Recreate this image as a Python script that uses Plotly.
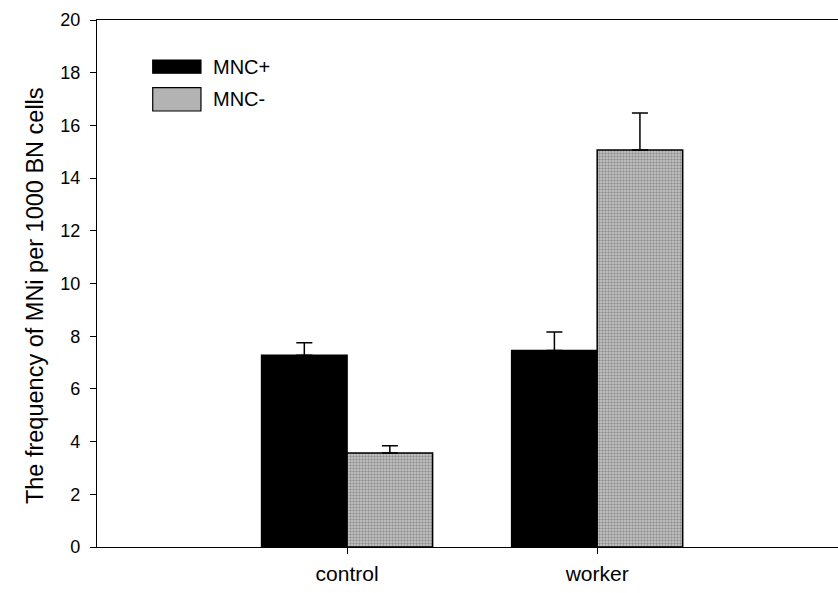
import plotly.graph_objects as go

# Micronucleus frequencies per 1000 binucleated cells
groups = ["control", "worker"]
mnc_pos = [7.28, 7.46]
mnc_pos_err = [0.47, 0.70]
mnc_neg = [3.57, 15.07]
mnc_neg_err = [0.27, 1.40]
y_ticks = [0, 2, 4, 6, 8, 10, 12, 14, 16, 18, 20]

FONT = "Liberation Sans, Arial, sans-serif"

fig = go.Figure()

fig.add_trace(go.Bar(
    name="MNC+", x=groups, y=mnc_pos,
    marker=dict(color="#000000", line=dict(color="#000000", width=1.5)),
    error_y=dict(type="data", symmetric=False, array=mnc_pos_err,
                 arrayminus=[0, 0], color="#000000", thickness=1.5, width=8),
    showlegend=False,
))
fig.add_trace(go.Bar(
    name="MNC-", x=groups, y=mnc_neg,
    marker=dict(color="#b0b0b0", line=dict(color="#000000", width=1.5),
                pattern=dict(shape=".", fgcolor="#5a5a5a", bgcolor="#c9c9c9",
                             size=3, solidity=0.5)),
    error_y=dict(type="data", symmetric=False, array=mnc_neg_err,
                 arrayminus=[0, 0], color="#000000", thickness=1.5, width=8),
    showlegend=False,
))

# Hand-drawn legend in the upper-left corner of the plot
legend_items = [("MNC+", "#000000", 0.924, 0.899),
                ("MNC-", "#b3b3b3", 0.8716, 0.8273)]
for label, fill, ytop, ybot in legend_items:
    fig.add_shape(type="rect", xref="paper", yref="paper",
                  x0=0.0752, x1=0.1403, y0=ybot, y1=ytop,
                  fillcolor=fill, line=dict(color="#000000", width=1.2))
    fig.add_annotation(xref="paper", yref="paper", x=0.154, y=(ytop + ybot) / 2,
                       text=label, showarrow=False, xanchor="left", yanchor="middle",
                       font=dict(family=FONT, size=20, color="#000000"))

# Y axis title
fig.add_annotation(xref="paper", yref="paper", x=-0.0837, y=0.478,
                   text="The frequency of MNi per 1000 BN cells", textangle=-90,
                   showarrow=False, xanchor="center", yanchor="middle",
                   font=dict(family=FONT, size=23.5, color="#000000"))

fig.update_layout(
    width=838, height=593,
    margin=dict(l=97, r=0, t=20, b=46),
    paper_bgcolor="#ffffff", plot_bgcolor="#ffffff",
    barmode="group", bargap=0.316, bargroupgap=0,
    font=dict(family=FONT, color="#000000"),
)
fig.update_xaxes(
    type="category", range=[-1, 1.963],
    showline=True, linecolor="#000000", linewidth=1.2, mirror=True,
    ticks="outside", ticklen=6, tickwidth=1, tickcolor="#000000",
    ticklabelstandoff=2,
    tickfont=dict(family=FONT, size=21, color="#000000"),
    showgrid=False, zeroline=False,
)
fig.update_yaxes(
    range=[0, 20], tickvals=y_ticks,
    showline=True, linecolor="#000000", linewidth=1.2, mirror=False,
    ticks="outside", ticklen=6, tickwidth=1, tickcolor="#000000",
    ticklabelstandoff=6,
    tickfont=dict(family=FONT, size=18, color="#000000"),
    showgrid=False, zeroline=False,
)

fig.write_html("out.html")
